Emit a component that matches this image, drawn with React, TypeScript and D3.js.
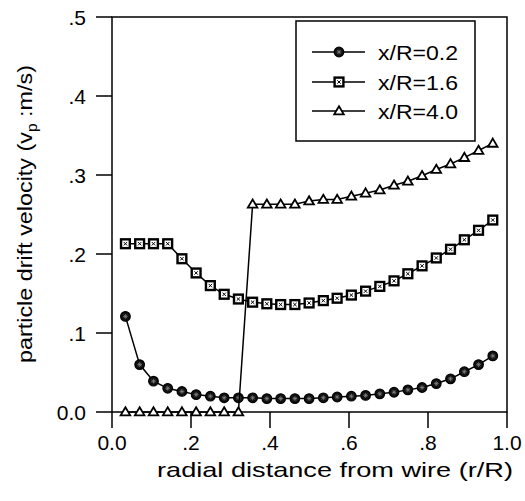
import React from "react";
import * as d3 from "d3";

const xPos = [0.034, 0.070, 0.105, 0.141, 0.177, 0.213, 0.249, 0.284, 0.320, 0.356, 0.392, 0.427, 0.463, 0.499, 0.535, 0.570, 0.606, 0.642, 0.678, 0.714, 0.749, 0.785, 0.821, 0.857, 0.892, 0.928, 0.964];

const s02 = [0.121, 0.060, 0.039, 0.030, 0.026, 0.022, 0.020, 0.018, 0.018, 0.018, 0.017, 0.017, 0.017, 0.017, 0.018, 0.019, 0.020, 0.021, 0.023, 0.025, 0.028, 0.031, 0.036, 0.042, 0.051, 0.060, 0.071];
const s16 = [0.213, 0.213, 0.213, 0.213, 0.194, 0.176, 0.160, 0.149, 0.143, 0.139, 0.137, 0.136, 0.136, 0.138, 0.141, 0.144, 0.148, 0.153, 0.159, 0.166, 0.175, 0.185, 0.195, 0.206, 0.218, 0.230, 0.243];
const s40 = [0.0, 0.0, 0.0, 0.0, 0.0, 0.0, 0.0, 0.0, 0.0, 0.263, 0.263, 0.263, 0.263, 0.267, 0.269, 0.269, 0.273, 0.277, 0.281, 0.287, 0.292, 0.299, 0.307, 0.314, 0.322, 0.331, 0.340];

const seriesNames = ["x/R=0.2", "x/R=1.6", "x/R=4.0"];
const xTicks = [0, 0.2, 0.4, 0.6, 0.8, 1.0];
const xTickLabels = ["0.0", ".2", ".4", ".6", ".8", "1.0"];
const yTicks = [0, 0.1, 0.2, 0.3, 0.4, 0.5];
const yTickLabels = ["0.0", ".1", ".2", ".3", ".4", ".5"];

const FONT = "'Liberation Sans', Arial, Helvetica, sans-serif";

function Marker({ kind, x, y }: { kind: number; x: number; y: number }) {
  if (kind === 0) {
    const r = 4.8;
    const a = 2.4;
    return (
      <g transform={`translate(${x},${y})`}>
        <circle r={r} fill="#111" stroke="#000" strokeWidth={1.2} />
        <path d={`M${-a},0H${a}M0,${-a}V${a}M${-a * 0.7},${-a * 0.7}L${a * 0.7},${a * 0.7}M${-a * 0.7},${a * 0.7}L${a * 0.7},${-a * 0.7}`} stroke="#888" strokeWidth={0.7} />
      </g>
    );
  }
  if (kind === 1) {
    const h = 4.4;
    const b = 1.7;
    return (
      <g transform={`translate(${x},${y})`}>
        <rect x={-h} y={-h} width={2 * h} height={2 * h} fill="#fff" stroke="#000" strokeWidth={2.4} />
        <path d={`M${-b},${-b}L${b},${b}M${-b},${b}L${b},${-b}`} stroke="#000" strokeWidth={1} />
      </g>
    );
  }
  const w = 4.8;
  return (
    <path
      transform={`translate(${x},${y})`}
      d={`M0,${-w}L${w},${w * 0.7}L${-w},${w * 0.7}Z`}
      fill="#fff"
      stroke="#000"
      strokeWidth={1.8}
      strokeLinejoin="miter"
    />
  );
}

export default function App() {
  const W = 525;
  const H = 501;
  const x = d3.scaleLinear().domain([0, 1]).range([112, 507]);
  const y = d3.scaleLinear().domain([0, 0.5]).range([412, 17]);
  const series = [s02, s16, s40];
  const line = d3
    .line<number>()
    .x((_, i) => x(xPos[i]))
    .y((d) => y(d));

  const legendRows = [52, 82, 111];

  return (
    <svg
      width={W}
      height={H}
      style={{ position: "absolute", left: 0, top: 0, background: "#fff" }}
      fontFamily={FONT}
    >
      <rect x={0} y={0} width={W} height={H} fill="#fff" />
      {/* frame */}
      <rect x={x(0)} y={y(0.5)} width={x(1) - x(0)} height={y(0) - y(0.5)} fill="none" stroke="#000" strokeWidth={1.5} />
      {/* y ticks */}
      {yTicks.map((t, i) => (
        <g key={"y" + i}>
          <line x1={x(0) - 16} x2={x(0)} y1={y(t)} y2={y(t)} stroke="#000" strokeWidth={1.5} />
          <text x={86} y={y(t) + 7.5} textAnchor="end" fontSize={21}>
            {yTickLabels[i]}
          </text>
        </g>
      ))}
      {/* x ticks */}
      {xTicks.map((t, i) => (
        <g key={"x" + i}>
          <line x1={x(t)} x2={x(t)} y1={y(0)} y2={y(0) + 16} stroke="#000" strokeWidth={1.5} />
          <text x={x(t)} y={450} textAnchor="middle" fontSize={21}>
            {xTickLabels[i]}
          </text>
        </g>
      ))}
      {/* axis titles */}
      <text x={335} y={477} textAnchor="middle" fontSize={21} textLength={356} lengthAdjust="spacingAndGlyphs">
        radial distance from wire (r/R)
      </text>
      <text
        transform={`translate(32,214) rotate(-90)`}
        textAnchor="middle"
        fontSize={21}
        textLength={298}
        lengthAdjust="spacingAndGlyphs"
      >
        particle drift velocity (v
        <tspan fontSize={14} dy={5}>p</tspan>
        <tspan dy={-5}> :m/s)</tspan>
      </text>
      {/* series */}
      {series.map((s, k) => (
        <g key={"s" + k}>
          <path d={line(s) || ""} fill="none" stroke="#000" strokeWidth={1.5} />
          {s.map((v, i) => (
            <Marker key={i} kind={k} x={x(xPos[i])} y={y(v)} />
          ))}
        </g>
      ))}
      {/* legend */}
      <rect x={296} y={21} width={179} height={120} fill="#fff" stroke="#000" strokeWidth={1.5} />
      {seriesNames.map((n, k) => (
        <g key={"l" + k}>
          <line x1={312} x2={365} y1={legendRows[k]} y2={legendRows[k]} stroke="#000" strokeWidth={1.3} />
          <Marker kind={k} x={339} y={legendRows[k]} />
          <text x={378} y={legendRows[k] + 7.5} fontSize={21} textLength={80} lengthAdjust="spacingAndGlyphs">
            {n}
          </text>
        </g>
      ))}
    </svg>
  );
}
